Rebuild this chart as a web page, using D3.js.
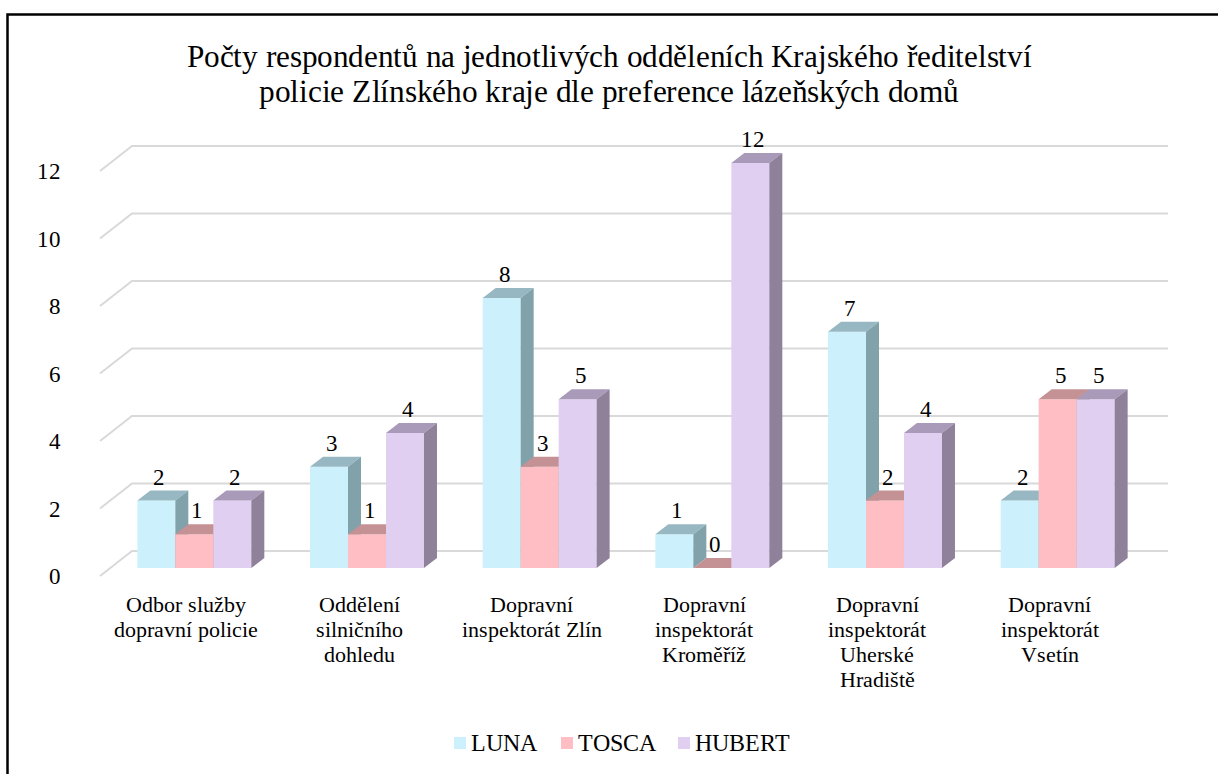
<!DOCTYPE html>
<html>
<head>
<meta charset="utf-8">
<script src="https://cdn.jsdelivr.net/npm/d3@7"></script>
<style>
  @font-face {
    font-family: "ChartSerif";
    src: local("Liberation Serif"), local("LiberationSerif"), local("LiberationSerif-Regular"), local("Liberation Serif Regular"), local("Tinos"), local("Times New Roman");
  }
</style>
</head>
<body style="margin:0">
<script>
// ---- data ----
const categories = [
  "Odbor služby dopravní policie",
  "Oddělení silničního dohledu",
  "Dopravní inspektorát Zlín",
  "Dopravní inspektorát Kroměříž",
  "Dopravní inspektorát Uherské Hradiště",
  "Dopravní inspektorát Vsetín"
];
const categoryLines = [
  ["Odbor služby", "dopravní policie"],
  ["Oddělení", "silničního", "dohledu"],
  ["Dopravní", "inspektorát Zlín"],
  ["Dopravní", "inspektorát", "Kroměříž"],
  ["Dopravní", "inspektorát", "Uherské", "Hradiště"],
  ["Dopravní", "inspektorát", "Vsetín"]
];
const seriesNames = ["LUNA", "TOSCA", "HUBERT"];
const luna = [2, 3, 8, 1, 7, 2];
const tosca = [1, 1, 3, 0, 2, 5];
const hubert = [2, 4, 5, 12, 4, 5];
const yTicks = [0, 2, 4, 6, 8, 10, 12];
const titleLines = [
  "Počty respondentů na jednotlivých odděleních Krajského ředitelství",
  "policie Zlínského kraje dle preference lázeňských domů"
];

// ---- styles ----
const FONT = '"ChartSerif", "Liberation Serif", "Times New Roman", serif';
const colors = {
  LUNA:   { front: "#CCF1FC", top: "#97B8C2", side: "#82A2AB" },
  TOSCA:  { front: "#FFBEC3", top: "#C49294", side: "#A87C7F" },
  HUBERT: { front: "#E1CFF1", top: "#A89AB8", side: "#8F8199" }
};
const seriesValues = { LUNA: luna, TOSCA: tosca, HUBERT: hubert };

const W = 1218, H = 774;
const svg = d3.select("body").append("svg").attr("width", W).attr("height", H)
  .attr("font-family", FONT);

function addText(x, yy, str, size, anchor) {
  return svg.append("text").attr("x", x).attr("y", yy)
    .attr("font-family", FONT)
    .style("font-family", FONT)
    .attr("font-size", size)
    .attr("text-anchor", anchor).attr("fill", "#000").text(str);
}

svg.append("rect")
  .attr("x", 7.5).attr("y", 14.5).attr("width", 1240).attr("height", 800)
  .attr("fill", "#fff").attr("stroke", "#000").attr("stroke-width", 2.5);

// title (line widths matched to the reference)
const titleWidths = [845, 700];
titleLines.forEach((d, i) =>
  addText(609, 67 + i * 35, d, 32, "middle")
    .attr("textLength", titleWidths[i]).attr("lengthAdjust", "spacingAndGlyphs"));

// scales
const frontLeft = 100, frontRight = 1136;
const wallDx = 32, wallDy = -25;
const x0 = d3.scaleBand().domain(categories).range([frontLeft, frontRight])
  .paddingInner(0.34).paddingOuter(0.17);
const x1 = d3.scaleBand().domain(seriesNames).range([0, x0.bandwidth()]);
const y = d3.scaleLinear().domain([0, 12]).range([576, 171]);

// gridlines (floor diagonal + back wall)
svg.append("g").selectAll("path").data(yTicks).join("path")
  .attr("d", t => `M${frontLeft},${y(t)} L${frontLeft + wallDx},${y(t) + wallDy} L${frontRight + wallDx},${y(t) + wallDy}`)
  .attr("fill", "none").attr("stroke", "#d9d9d9").attr("stroke-width", 2);

// y tick labels
yTicks.forEach(t => addText(61, y(t) + 8, String(t), 23, "end"));

// bars
const offX = 8, offY = -8;   // bar front offset from front plane
const dX = 13, dY = -10;     // bar depth
const barsG = svg.append("g");
const labelData = [];
categories.forEach((c, i) => {
  seriesNames.forEach(s => {
    const v = seriesValues[s][i];
    const x = x0(c) + x1(s) + offX;
    const w = x1.bandwidth();
    const yt = y(v) + offY, yb = y(0) + offY;
    const col = colors[s];
    barsG.append("rect").attr("x", x).attr("y", yt).attr("width", w).attr("height", yb - yt)
      .attr("fill", col.front);
    barsG.append("polygon")
      .attr("points", `${x},${yt} ${x + w},${yt} ${x + w + dX},${yt + dY} ${x + dX},${yt + dY}`)
      .attr("fill", col.top);
    barsG.append("polygon")
      .attr("points", `${x + w},${yt} ${x + w + dX},${yt + dY} ${x + w + dX},${yb + dY} ${x + w},${yb}`)
      .attr("fill", col.side);
    labelData.push({ x: x + w / 2 + 3, y: yt + dY - 6, v });
  });
});
labelData.forEach(d => addText(d.x, d.y, String(d.v), 23, "middle"));

// category labels
categories.forEach((c, i) => {
  categoryLines[i].forEach((line, k) =>
    addText(x0(c) + x0.bandwidth() / 2, 612 + k * 25, line, 22, "middle"));
});

// legend (item offsets as in the reference)
const legendX = d3.scaleOrdinal().domain(seriesNames).range([454, 561, 678]);
seriesNames.forEach(s => {
  svg.append("rect").attr("x", legendX(s)).attr("y", 737).attr("width", 12).attr("height", 12)
    .attr("fill", colors[s].front);
  addText(legendX(s) + 17, 751, s, 24, "start");
});
</script>
</body>
</html>
